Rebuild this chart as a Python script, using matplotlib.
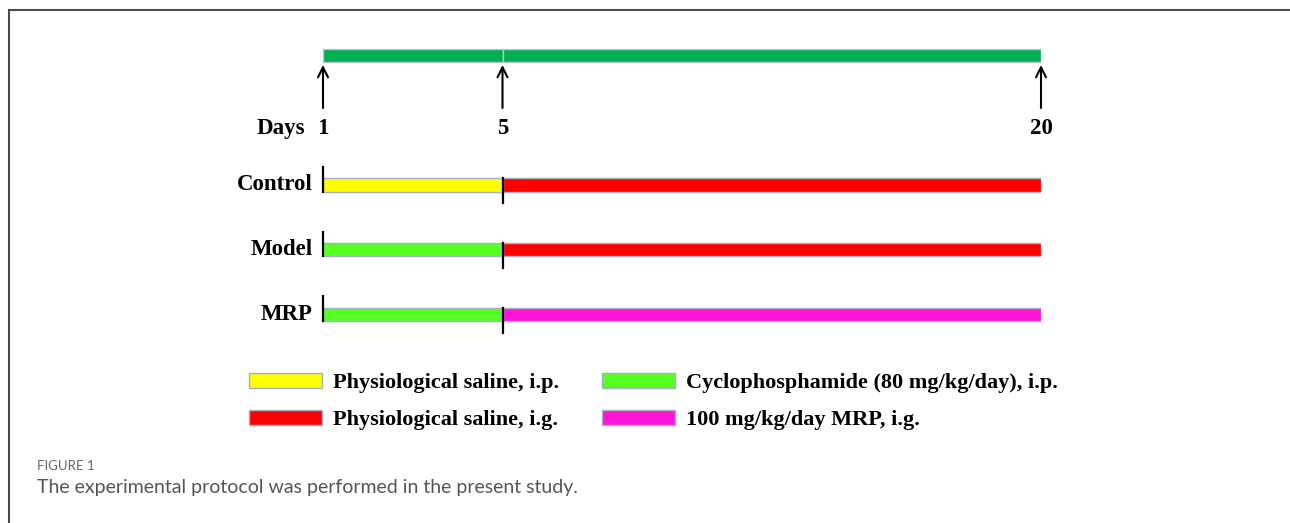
import numpy as np
import matplotlib
matplotlib.use('Agg')
import matplotlib.pyplot as plt
from matplotlib.patches import Patch
from matplotlib.lines import Line2D

# Datos del protocolo
day_marks = [1, 5, 20]
groups = ['Control', 'Model', 'MRP']
phase_start = [1, 5]
phase_end = [5, 20]

treat_labels = ['Physiological saline, i.p.',
                'Physiological saline, i.g.',
                'Cyclophosphamide (80 mg/kg/day), i.p.',
                '100 mg/kg/day MRP, i.g.']
treat_colors = ['#FFFF00', '#FF0000', '#55FF22', '#FF14D8']

# tratamiento de cada grupo en cada fase (indice en treat_labels)
group_phase1 = [0, 2, 2]
group_phase2 = [1, 1, 3]

# Escala esquematica (no lineal): dia 5 a un cuarto del eje
def fwd(x):
    x = np.asarray(x, dtype=float)
    return np.where(x < 5, (x - 1) / 4 * 0.25, 0.25 + (x - 5) / 15 * 0.75)

def inv(u):
    u = np.asarray(u, dtype=float)
    return np.where(u < 0.25, 1 + u / 0.25 * 4, 5 + (u - 0.25) / 0.75 * 15)

W, H = 1290, 523
fig = plt.figure(figsize=(W / 100, H / 100), dpi=100)
fig.patch.set_facecolor('white')

serif = 'Liberation Serif'
fs = 16.5
edge = '#A3B0C8'

ax = fig.add_axes([323 / W, 1 - 346.75 / H, 718 / W, 323.5 / H])
ax.set_xscale('function', functions=(fwd, inv))
ax.set_xlim(1, 20)
ax.set_ylim(4.5, -0.5)
ax.axis('off')

# barra de tiempo superior
ax.barh([0] * len(phase_start), np.subtract(phase_end, phase_start), left=phase_start,
        height=0.21, color='#00B050', edgecolor='#B8C4CC', linewidth=1)

# flechas y etiquetas de dias
for d in day_marks:
    ax.annotate('', xy=(d, 0.145), xytext=(d, 0.81),
                arrowprops=dict(arrowstyle='->', lw=1.5, color='black',
                                mutation_scale=18, shrinkA=0, shrinkB=0))
    ax.text(d, 1.13, str(d), ha='center', va='center', family=serif,
            fontweight='bold', fontsize=fs)
ax.annotate('Days', xy=(day_marks[0], 1.13), xytext=(-18, 0), textcoords='offset pixels',
            ha='right', va='center', family=serif, fontweight='bold', fontsize=fs)

# grupos
for i, g in enumerate(groups):
    row = i + 2
    c1 = treat_colors[group_phase1[i]]
    c2 = treat_colors[group_phase2[i]]
    ax.barh([row, row], np.subtract(phase_end, phase_start), left=phase_start,
            height=0.21, color=[c1, c2], edgecolor=edge, linewidth=1)
    ax.plot([phase_start[0]] * 2, [row - 0.28, row + 0.105], color='black', lw=1.6,
            clip_on=False)
    ax.plot([phase_start[1]] * 2, [row - 0.105, row + 0.28], color='black', lw=1.6,
            clip_on=False)
    ax.annotate(g, xy=(phase_start[0], row), xytext=(-10, 0), textcoords='offset pixels',
                ha='right', va='center', family=serif, fontweight='bold', fontsize=fs)

# leyenda
handles = [Patch(facecolor=c, edgecolor=edge, linewidth=1, label=l)
           for c, l in zip(treat_colors, treat_labels)]
fig.legend(handles=handles, ncol=2, loc='upper left',
           bbox_to_anchor=(249 / W, 1 - 373 / H), frameon=False,
           borderpad=0, borderaxespad=0, handlelength=3.3, handleheight=0.64,
           handletextpad=0.5, columnspacing=1.9, labelspacing=0.75,
           prop=dict(family=serif, weight='bold', size=16))

# marco de la figura
fig.add_artist(Line2D([9 / W, 1], [1 - 10 / H] * 2, transform=fig.transFigure,
                      color='#4A4A4A', lw=1.5))
fig.add_artist(Line2D([9 / W, 9 / W], [0, 1 - 10 / H], transform=fig.transFigure,
                      color='#4A4A4A', lw=1.5))

# pie de figura
fig.text(37 / W, 1 - 466 / H, 'FIGURE 1', ha='left', va='center', family='Lato',
         fontsize=9.5, color='#666666')
fig.text(37 / W, 1 - 488 / H, 'The experimental protocol was performed in the present study.',
         ha='left', va='center', family='Lato', fontsize=14, color='#555555')

fig.savefig('out.png', dpi=100, facecolor='white')
